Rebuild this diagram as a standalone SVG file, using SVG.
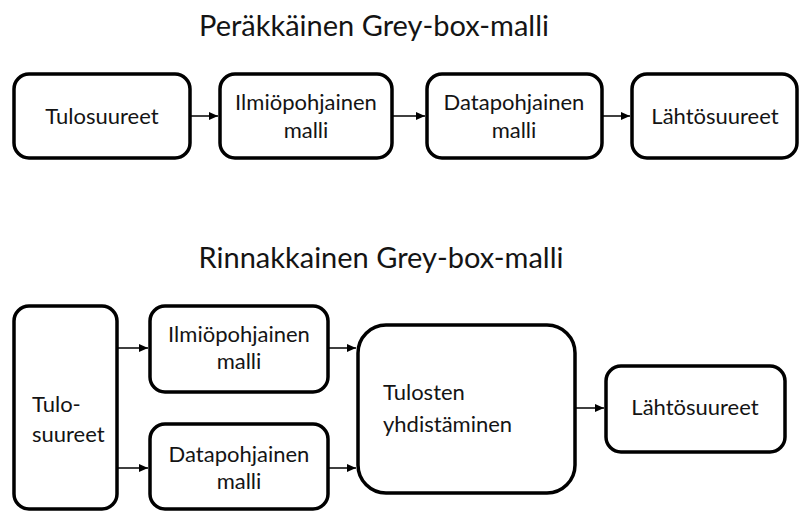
<svg xmlns="http://www.w3.org/2000/svg" width="800" height="512" viewBox="0 0 800 512">
<defs>
<marker id="ah" markerWidth="10" markerHeight="8" refX="9" refY="4" orient="auto" markerUnits="userSpaceOnUse">
<path d="M0,0 L9,4 L0,8 Z" fill="#000"/>
</marker>
<style>
.box{fill:#fff;stroke:#000;stroke-width:3.5}
.t{font-family:Lato,"Liberation Sans",sans-serif;font-size:22px;fill:#141414}
.c{text-anchor:middle}
.title{font-family:Lato,"Liberation Sans",sans-serif;font-size:29px;fill:#141414;text-anchor:middle}
.cn{stroke:#000;stroke-width:1.5;fill:none;marker-end:url(#ah)}
</style>
</defs>
<rect width="800" height="512" fill="#fff"/>
<text class="title" x="374" y="36">Peräkkäinen Grey-box-malli</text>
<text class="title" x="381" y="268">Rinnakkainen Grey-box-malli</text>
<g id="connectors">
<line class="cn" x1="190" y1="116" x2="218" y2="116"/>
<line class="cn" x1="392" y1="116" x2="425" y2="116"/>
<line class="cn" x1="602" y1="116" x2="630" y2="116"/>
<line class="cn" x1="117" y1="348" x2="148" y2="348"/>
<line class="cn" x1="117" y1="468" x2="148" y2="468"/>
<line class="cn" x1="328" y1="348" x2="356" y2="348"/>
<line class="cn" x1="328" y1="468" x2="356" y2="468"/>
<line class="cn" x1="575" y1="408" x2="604" y2="408"/>
</g>
<g id="s_tulo">
<rect class="box" x="14" y="74" width="176" height="84" rx="15"/>
<text class="t c" x="102" y="124">Tulosuureet</text>
</g>
<g id="s_ilmio">
<rect class="box" x="220" y="74" width="172" height="84" rx="15"/>
<text class="t c" x="306" y="110">Ilmiöpohjainen</text>
<text class="t c" x="306" y="138">malli</text>
</g>
<g id="s_data">
<rect class="box" x="427" y="74" width="175" height="84" rx="15"/>
<text class="t c" x="514" y="110">Datapohjainen</text>
<text class="t c" x="514" y="138">malli</text>
</g>
<g id="s_lahto">
<rect class="box" x="632" y="74" width="165" height="84" rx="15"/>
<text class="t c" x="715" y="124">Lähtösuureet</text>
</g>
<g id="p_tulo">
<rect class="box" x="14" y="306" width="103" height="203" rx="15"/>
<text class="t" x="32" y="412">Tulo-</text>
<text class="t" x="32" y="442">suureet</text>
</g>
<g id="p_ilmio">
<rect class="box" x="150" y="306" width="178" height="86" rx="15"/>
<text class="t c" x="239" y="342">Ilmiöpohjainen</text>
<text class="t c" x="239" y="369">malli</text>
</g>
<g id="p_data">
<rect class="box" x="150" y="424" width="178" height="85" rx="15"/>
<text class="t c" x="239" y="462">Datapohjainen</text>
<text class="t c" x="239" y="489">malli</text>
</g>
<g id="p_yhd">
<rect class="box" x="358" y="325" width="217" height="168" rx="28"/>
<text class="t" x="383" y="400">Tulosten</text>
<text class="t" x="383" y="432">yhdistäminen</text>
</g>
<g id="p_lahto">
<rect class="box" x="606" y="366" width="179" height="86" rx="15"/>
<text class="t c" x="695" y="415">Lähtösuureet</text>
</g>
</svg>
